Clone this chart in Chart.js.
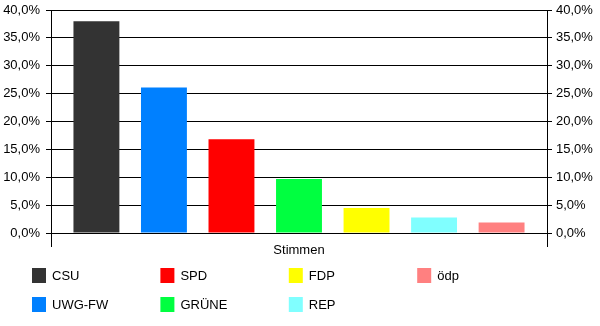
<!DOCTYPE html>
<html lang="de">
<head>
<meta charset="UTF-8">
<title>Stimmen</title>
<script src="https://cdn.jsdelivr.net/npm/chart.js"></script>
<style>
    body { margin: 0; padding: 0; background: #ffffff; }
    .chart-box { width: 600px; height: 326px; }
</style>
</head>
<body>
<div class="chart-box">
    <canvas id="grafik"></canvas>
</div>
<script>
// Daten
var kategorien = ['Stimmen'];
var parteien = ['CSU', 'UWG-FW', 'SPD', 'GRÜNE', 'FDP', 'REP', 'ödp'];
var anteile = [38.0, 26.1, 16.8, 9.7, 4.5, 2.8, 1.9];
var farben = ['#333333', '#0080ff', '#ff0000', '#00ff40', '#ffff00', '#80ffff', '#ff8080'];
var yTicks = [0, 5, 10, 15, 20, 25, 30, 35, 40];

var schrift = { family: '"Liberation Sans", Arial, sans-serif', size: 13 };

function prozent(v) {
    return v.toFixed(1).replace('.', ',') + '%';
}

var datensaetze = parteien.map(function (name, i) {
    return {
        label: name,
        data: [anteile[i]],
        backgroundColor: farben[i],
        borderWidth: 0,
        categoryPercentage: 0.953,
        barPercentage: 0.68
    };
});

// Legende in Spalten (spaltenweise gefüllt, 2 Zeilen)
var legende = {
    id: 'legende',
    afterDraw: function (chart) {
        var ctx = chart.ctx;
        ctx.save();
        ctx.font = schrift.size + 'px ' + schrift.family;
        ctx.textBaseline = 'middle';
        ctx.textAlign = 'left';
        chart.data.datasets.forEach(function (ds, i) {
            var spalte = Math.floor(i / 2);
            var zeile = i % 2;
            var x = 32 + spalte * 128.4;
            var y = 268 + zeile * 29;
            ctx.fillStyle = ds.backgroundColor;
            ctx.fillRect(x, y, 14, 15);
            ctx.fillStyle = '#000000';
            ctx.fillText(ds.label, x + 20, y + 8);
        });
        ctx.restore();
    }
};

var yAchse = function (seite) {
    return {
        type: 'linear',
        position: seite,
        min: 0,
        max: 40,
        afterBuildTicks: function (s) {
            s.ticks = yTicks.map(function (v) { return { value: v }; });
        },
        afterFit: function (s) {
            s.width = seite === 'left' ? 51 : 53;
            s.paddingTop = 0;
            s.paddingBottom = 0;
        },
        ticks: {
            color: '#000000',
            font: schrift,
            padding: seite === 'left' ? 6 : 4,
            callback: function (v) { return prozent(v); }
        },
        grid: {
            color: '#000000',
            lineWidth: 1,
            tickLength: 5,
            drawOnChartArea: seite === 'left'
        },
        border: { display: true, color: '#000000', width: 1 }
    };
};

new Chart(document.getElementById('grafik'), {
    type: 'bar',
    data: { labels: kategorien, datasets: datensaetze },
    options: {
        responsive: true,
        maintainAspectRatio: false,
        animation: false,
        layout: { padding: { top: 10, bottom: 63, left: 0, right: 0 } },
        plugins: {
            legend: { display: false },
            tooltip: { enabled: false }
        },
        scales: {
            x: {
                afterFit: function (s) { s.height = 30; },
                ticks: { color: '#000000', font: schrift, padding: -4 },
                grid: { color: '#000000', lineWidth: 1, tickLength: 14, offset: true },
                border: { display: true, color: '#000000', width: 1 }
            },
            y: yAchse('left'),
            y2: yAchse('right')
        }
    },
    plugins: [legende]
});
</script>
</body>
</html>
